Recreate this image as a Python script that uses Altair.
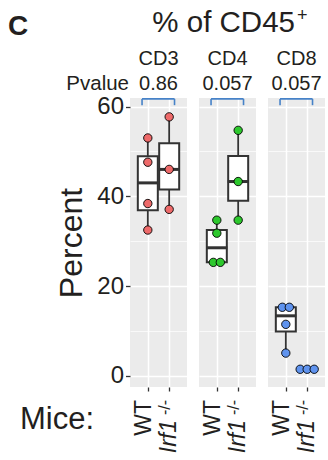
import altair as alt
import pandas as pd

# ---------------- data ----------------
panels = ["CD3", "CD4", "CD8"]
pvalues = ["0.86", "0.057", "0.057"]
groups = ["WT", "Irf1"]
wt_values = {
    "CD3": [53.0, 47.6, 38.4, 32.5],
    "CD4": [34.7, 31.8, 25.3, 25.3],
    "CD8": [15.3, 15.3, 11.5, 5.1],
}
ko_values = {
    "CD3": [57.7, 46.0, 37.1],
    "CD4": [54.7, 43.3, 34.7],
    "CD8": [1.5, 1.5, 1.5],
}
point_colors = ["#EE6A6A", "#2DC82D", "#5F93EE"]
y_ticks = [0, 10, 20, 30, 40, 50, 60]
bracket_x = [0.73, 2.25]
bracket_y = [61.7, 60.3]

# ---------------- styling ----------------
FONT = "Liberation Sans"
TXT = "#231F20"
DARK = "#333333"
W, H = 57, 289
XDOM = [0.4, 2.6]
YDOM = [-2.45, 61.9]
DOT_STEP_PX = 8.5

rows = []
for p in panels:
    for g, vals in ((0, wt_values[p]), (1, ko_values[p])):
        for v in vals:
            rows.append({"panel": p, "group": groups[g], "idx": g + 1, "value": v})
df = pd.DataFrame(rows)
step = DOT_STEP_PX / (W / (XDOM[1] - XDOM[0]))
grp = df.groupby(["panel", "group", "value"])
df["rank"] = grp.cumcount()
df["n"] = grp["value"].transform("size")
df["x"] = df["idx"] + (df["rank"] - (df["n"] - 1) / 2) * step

major = "datum.value % 20 == 0"


def xenc(field):
    return alt.X(
        f"{field}:Q",
        scale=alt.Scale(domain=XDOM, nice=False, zero=False),
        axis=alt.Axis(values=[1, 2], labels=False, ticks=True, tickSize=4,
                      tickColor=DARK, tickWidth=1.3, domain=False,
                      grid=True, gridColor="white", gridWidth=1.5, title=None),
    )


def yenc(field, first):
    if first:
        ax = alt.Axis(values=y_ticks,
                      labelExpr=f"{major} ? datum.label : ''",
                      labelFontSize=24, labelColor=TXT, labelFont=FONT,
                      labelPadding=2, tickSize=4.5, tickColor=DARK,
                      tickWidth=1.3,
                      tickOpacity={"condition": {"test": major, "value": 1}, "value": 0},
                      domain=False, grid=True, gridColor="white",
                      gridWidth={"condition": {"test": major, "value": 1.5}, "value": 0.7},
                      title="Percent", titleFontSize=32, titleFontWeight="normal",
                      titleFont=FONT, titleColor=TXT, titlePadding=8)
    else:
        ax = alt.Axis(values=y_ticks, labels=False, ticks=False, domain=False,
                      grid=True, gridColor="white",
                      gridWidth={"condition": {"test": major, "value": 1.5}, "value": 0.7},
                      title=None)
    return alt.Y(f"{field}:Q", scale=alt.Scale(domain=YDOM, nice=False, zero=False), axis=ax)


def make_panel(i):
    p = panels[i]
    first = i == 0
    d = df[df["panel"] == p]
    base = alt.Chart(d)
    agg = base.transform_aggregate(
        lo="min(value)", hi="max(value)", q1="q1(value)", q3="q3(value)",
        med="median(value)", groupby=["idx"],
    )
    whisk = agg.mark_rule(color=DARK, strokeWidth=1.8).encode(
        x=xenc("idx"), y=yenc("lo", first), y2="hi:Q")
    box = agg.mark_bar(size=20, fill="white", stroke=DARK, strokeWidth=2).encode(
        x=xenc("idx"), y=yenc("q1", first), y2="q3:Q")
    med = agg.mark_tick(orient="horizontal", size=21, thickness=3, color=DARK,
                        opacity=1).encode(
        x=xenc("idx"), y=yenc("med", first))
    pts = base.mark_circle(size=70, fill=point_colors[i], stroke="black",
                           strokeWidth=0.9, opacity=1).encode(
        x=xenc("x"), y=yenc("value", first))

    br = pd.DataFrame({
        "xa": [bracket_x[0], bracket_x[0], bracket_x[1]],
        "xb": [bracket_x[1], bracket_x[0], bracket_x[1]],
        "ya": [bracket_y[0], bracket_y[0], bracket_y[0]],
        "yb": [bracket_y[0], bracket_y[1], bracket_y[1]],
    })
    bracket = alt.Chart(br).mark_rule(color="#4682C8", strokeWidth=1.6).encode(
        x=xenc("xa"), x2="xb:Q", y=yenc("ya", first), y2="yb:Q")

    head = alt.Chart(pd.DataFrame({"t": [p], "pv": [pvalues[i]]}))
    h1 = head.mark_text(fontSize=20, font=FONT, color=TXT, align="center",
                        baseline="alphabetic").encode(
        text="t:N", x=alt.value(W / 2), y=alt.value(-33))
    h2 = head.mark_text(fontSize=20, font=FONT, color=TXT, align="center",
                        baseline="alphabetic").encode(
        text="pv:N", x=alt.value(W / 2), y=alt.value(-8))

    lab = alt.Chart(pd.DataFrame({"g": groups, "idx": [1, 2]}))
    l_wt = lab.transform_filter("datum.idx == 1").mark_text(
        fontSize=23, font=FONT, color=TXT, angle=270, align="right",
        baseline="alphabetic", dy=3).encode(
        text="g:N", x=xenc("idx"), y=alt.value(H + 13))
    l_ko = lab.transform_filter("datum.idx == 2").mark_text(
        fontSize=23, font=FONT, color=TXT, angle=270, align="right",
        baseline="alphabetic", fontStyle="italic", dx=-20, dy=7).encode(
        text="g:N", x=xenc("idx"), y=alt.value(H + 13))
    l_sup = lab.transform_filter("datum.idx == 2").mark_text(
        fontSize=16, font=FONT, color=TXT, angle=270, align="right",
        baseline="alphabetic", dy=1, text="-/-").encode(
        x=xenc("idx"), y=alt.value(H + 13))

    layers = [whisk, box, med, pts, bracket, h1, h2, l_wt, l_ko, l_sup]

    if first:
        ann = alt.Chart(pd.DataFrame({"a": ["C"], "b": ["% of CD45"], "c": ["+"],
                                      "d": ["Pvalue"], "e": ["Mice:"]}))
        layers += [
            ann.mark_text(fontSize=28, fontWeight="bold", font=FONT, color=TXT,
                          align="left", baseline="alphabetic").encode(
                text="a:N", x=alt.value(-122), y=alt.value(-63)),
            ann.mark_text(fontSize=29.5, font=FONT, color=TXT, align="right",
                          baseline="alphabetic").encode(
                text="b:N", x=alt.value(165), y=alt.value(-66)),
            ann.mark_text(fontSize=18, font=FONT, color=TXT, align="left",
                          baseline="alphabetic").encode(
                text="c:N", x=alt.value(167), y=alt.value(-77)),
            ann.mark_text(fontSize=20.5, font=FONT, color=TXT, align="right",
                          baseline="alphabetic").encode(
                text="d:N", x=alt.value(-1), y=alt.value(-8)),
            ann.mark_text(fontSize=31, font=FONT, color=TXT, align="left",
                          baseline="alphabetic").encode(
                text="e:N", x=alt.value(-110), y=alt.value(331)),
        ]
    return alt.layer(*layers).properties(width=W, height=H)


chart = alt.hconcat(*[make_panel(i) for i in range(3)], spacing=12,
                    bounds="flush").properties(
    padding={"left": 8, "top": 7, "right": 2, "bottom": 2},
    background="white",
).configure_view(fill="#EBEBEB", stroke=None)

chart.save("out.html", embed_options={"renderer": "svg", "actions": False})
